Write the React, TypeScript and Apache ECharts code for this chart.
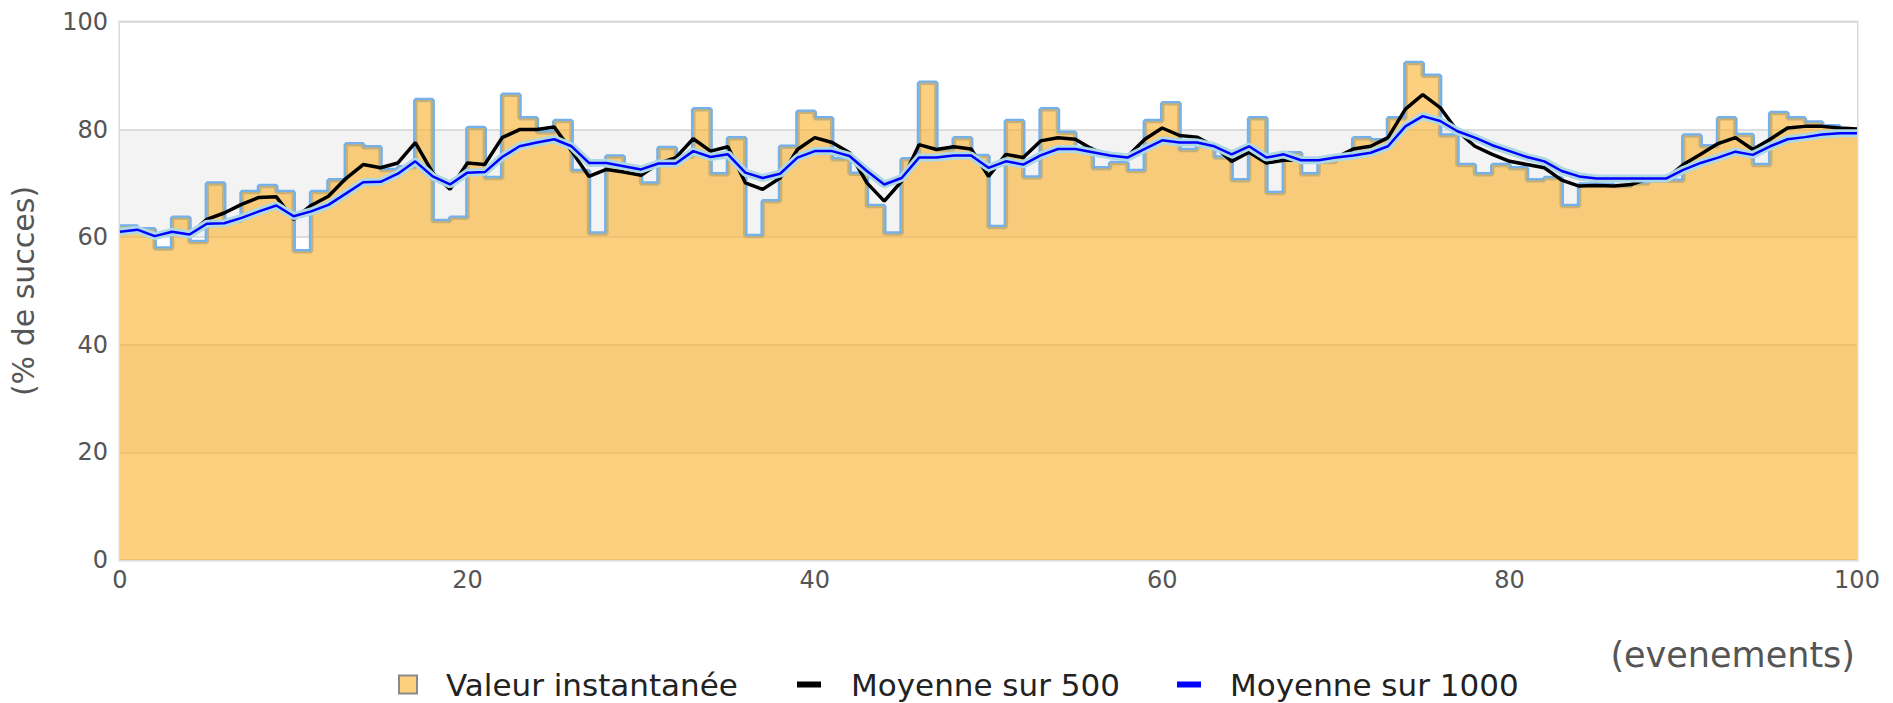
import React, { useEffect, useRef } from "react";
import * as echarts from "echarts";

const FONT = "DejaVu Sans";

// x positions (evenements)
const xTicks = [0, 20, 40, 60, 80, 100];

// instantaneous value, one per unit interval [i, i+1]
const instantValues = [
  62, 61.5, 57.9, 63.6, 59.1, 70.0, 63, 68.4, 69.5, 68.4,
  57.4, 68.4, 70.6, 77.3, 76.7, 72.5, 73, 85.5, 63.0, 63.6,
  80.3, 71.0, 86.5, 82.1, 79.5, 81.6, 72.3, 60.7, 75.0, 72.5,
  70.0, 76.6, 75, 83.8, 71.7, 78.4, 60.2, 66.7, 76.8, 83.3,
  82.1, 74.5, 71.8, 65.8, 60.7, 74.5, 88.7, 76.3, 78.4, 75.1,
  61.9, 81.6, 71.1, 83.8, 79.4, 76.5, 72.8, 73.8, 72.3, 81.6,
  84.9, 76.2, 77, 74.8, 70.6, 82.1, 68.2, 75.6, 71.7, 74,
  75, 78.4, 78, 82.1, 92.4, 90.0, 78.9, 73.4, 71.7, 73.4,
  72.8, 70.6, 71, 65.8, 69.8, 69.7, 69.5, 70, 70.5, 70.5,
  78.9, 76.9, 82.1, 79.0, 73.4, 83.1, 82.1, 81.3, 80.6, 79.4,
];

// moving average over 500 (points at x = 0..100)
const avg500 = [
  61.0, 61.4, 60.2, 61.0, 60.5, 63.3, 64.5, 66.1, 67.4, 67.5,
  63.3, 65.9, 67.6, 70.9, 73.5, 72.9, 73.8, 77.6, 72.0, 68.9,
  73.8, 73.5, 78.5, 80.0, 80.0, 80.5, 76.0, 71.3, 72.6, 72.1,
  71.5, 73.7, 74.8, 78.3, 76.0, 76.8, 70.1, 68.9, 71.0, 76.3,
  78.5, 77.6, 75.7, 70.1, 66.7, 70.4, 77.2, 76.3, 76.8, 76.4,
  71.3, 75.4, 74.8, 77.9, 78.5, 78.2, 76.3, 75.2, 75.0, 78.2,
  80.3, 78.9, 78.6, 76.9, 74.1, 75.8, 73.8, 74.3, 74.3, 74.3,
  74.8, 76.4, 76.9, 78.5, 83.8, 86.5, 84.1, 79.7, 76.9, 75.4,
  74.1, 73.5, 72.9, 70.6, 69.5, 69.6, 69.5, 69.8, 70.9, 70.9,
  73.5, 75.4, 77.4, 78.5, 76.3, 78.2, 80.3, 80.6, 80.6, 80.3,
  80.1,
];

// moving average over 1000 (points at x = 0..100)
const avg1000 = [
  61.0, 61.4, 60.2, 61.0, 60.5, 62.5, 62.6, 63.6, 64.8, 65.9,
  63.9, 64.8, 66.0, 68.1, 70.2, 70.3, 71.8, 74.1, 71.3, 69.8,
  72.0, 72.1, 74.9, 76.9, 77.6, 78.2, 76.9, 73.8, 73.8, 73.2,
  72.6, 73.7, 73.7, 76.0, 74.9, 75.4, 72.0, 71.0, 71.8, 74.8,
  76.0, 76.0, 75.1, 72.3, 69.8, 71.0, 74.8, 74.8, 75.2, 75.2,
  72.9, 74.1, 73.5, 75.2, 76.4, 76.4, 75.8, 75.2, 74.8, 76.4,
  78.0, 77.6, 77.6, 76.9, 75.4, 76.9, 74.8, 75.4, 74.3, 74.3,
  74.8, 75.2, 75.7, 76.9, 80.6, 82.5, 81.6, 79.7, 78.5, 77.1,
  76.0, 74.9, 74.1, 72.3, 71.3, 70.9, 70.9, 70.9, 70.9, 70.9,
  72.5, 73.8, 74.8, 75.9, 75.3, 76.9, 78.2, 78.6, 79.1, 79.3,
  79.3,
];

const seriesNames = ["Valeur instantanée", "Moyenne sur 500", "Moyenne sur 1000"];

export default function App() {
  const ref = useRef<HTMLDivElement>(null);

  useEffect(() => {
    document.body.style.margin = "0";
    document.body.style.overflow = "hidden";
    if (!ref.current) return;
    const chart = echarts.init(ref.current, undefined, { renderer: "svg" });

    const stepData = instantValues.map((v, i) => [i, v]);
    stepData.push([instantValues.length, instantValues[instantValues.length - 1]]);
    const d500 = avg500.map((v, i) => [i, v]);
    const d1000 = avg1000.map((v, i) => [i, v]);

    const legendText = { fontSize: 31, lineHeight: 31, fontFamily: FONT, color: "#222" };
    const legendTop = 669;

    const option: any = {
      animation: false,
      backgroundColor: "#ffffff",
      grid: {
        left: 118,
        top: 22,
        width: 1739,
        height: 538,
        show: true,
        borderColor: "#d9d9d9",
        borderWidth: 3,
        backgroundColor: "transparent",
      },
      xAxis: {
        type: "value",
        min: xTicks[0],
        max: xTicks[xTicks.length - 1],
        interval: 20,
        axisLine: { show: false },
        axisTick: { show: false },
        splitLine: { show: false },
        axisLabel: { fontSize: 24, fontFamily: FONT, color: "#555", margin: 8 },
      },
      yAxis: {
        type: "value",
        min: 0,
        max: 100,
        interval: 20,
        axisLine: { show: false },
        axisTick: { show: false },
        splitLine: { lineStyle: { color: "#dcdcdc", width: 2 } },
        splitArea: { show: true, areaStyle: { color: ["#ffffff", "#f3f3f3"] } },
        axisLabel: { fontSize: 24, fontFamily: FONT, color: "#555", margin: 12 },
        name: "(% de succes)",
        nameLocation: "middle",
        nameGap: 82,
        nameTextStyle: { fontSize: 30, fontFamily: FONT, color: "#555" },
      },
      legend: [
        {
          left: 398,
          top: legendTop,
          padding: 0,
          selectedMode: false,
          itemWidth: 18,
          itemHeight: 18,
          textStyle: { ...legendText, padding: [0, 0, 0, 24] },
          data: [
            {
              name: seriesNames[0],
              icon: "rect",
              itemStyle: { color: "#fdd07f", borderColor: "#8a8a8a", borderWidth: 2 },
            },
          ],
        },
        {
          left: 797,
          top: legendTop,
          padding: 0,
          selectedMode: false,
          itemWidth: 24,
          itemHeight: 6,
          textStyle: { ...legendText, padding: [0, 0, 0, 25] },
          data: [{ name: seriesNames[1], icon: "rect", itemStyle: { color: "#000000", borderWidth: 0 } }],
        },
        {
          left: 1177,
          top: legendTop,
          padding: 0,
          selectedMode: false,
          itemWidth: 24,
          itemHeight: 6,
          textStyle: { ...legendText, padding: [0, 0, 0, 24] },
          data: [{ name: seriesNames[2], icon: "rect", itemStyle: { color: "#0000ff", borderWidth: 0 } }],
        },
      ],
      graphic: [
        {
          type: "text",
          right: 38,
          top: 637,
          style: { text: "(evenements)", fontSize: 35, fontFamily: FONT, fill: "#555" },
        },
      ],
      series: [
        {
          name: seriesNames[0],
          type: "line",
          step: "end",
          data: stepData,
          symbol: "none",
          lineStyle: { color: "#74b0ea", width: 4.5 },
          itemStyle: { color: "#fdd07f" },
          z: 2,
        },
        {
          name: "_area",
          type: "line",
          step: "end",
          data: stepData,
          symbol: "none",
          lineStyle: { width: 0, opacity: 0 },
          areaStyle: { color: "rgba(252,177,42,0.6)", opacity: 1 },
          z: 3,
        },
        {
          name: seriesNames[1],
          type: "line",
          data: d500,
          symbol: "none",
          lineStyle: { color: "#000000", width: 3.5 },
          itemStyle: { color: "#000000" },
          z: 4,
        },
        {
          name: "_halo",
          type: "line",
          data: d1000,
          symbol: "none",
          lineStyle: { color: "#add8e6", width: 8 },
          z: 5,
        },
        {
          name: seriesNames[2],
          type: "line",
          data: d1000,
          symbol: "none",
          lineStyle: { color: "#0000ff", width: 2.5 },
          itemStyle: { color: "#0000ff" },
          z: 6,
        },
      ],
    };
    chart.setOption(option);
    return () => chart.dispose();
  }, []);

  return <div ref={ref} style={{ width: 1893, height: 703 }} />;
}
